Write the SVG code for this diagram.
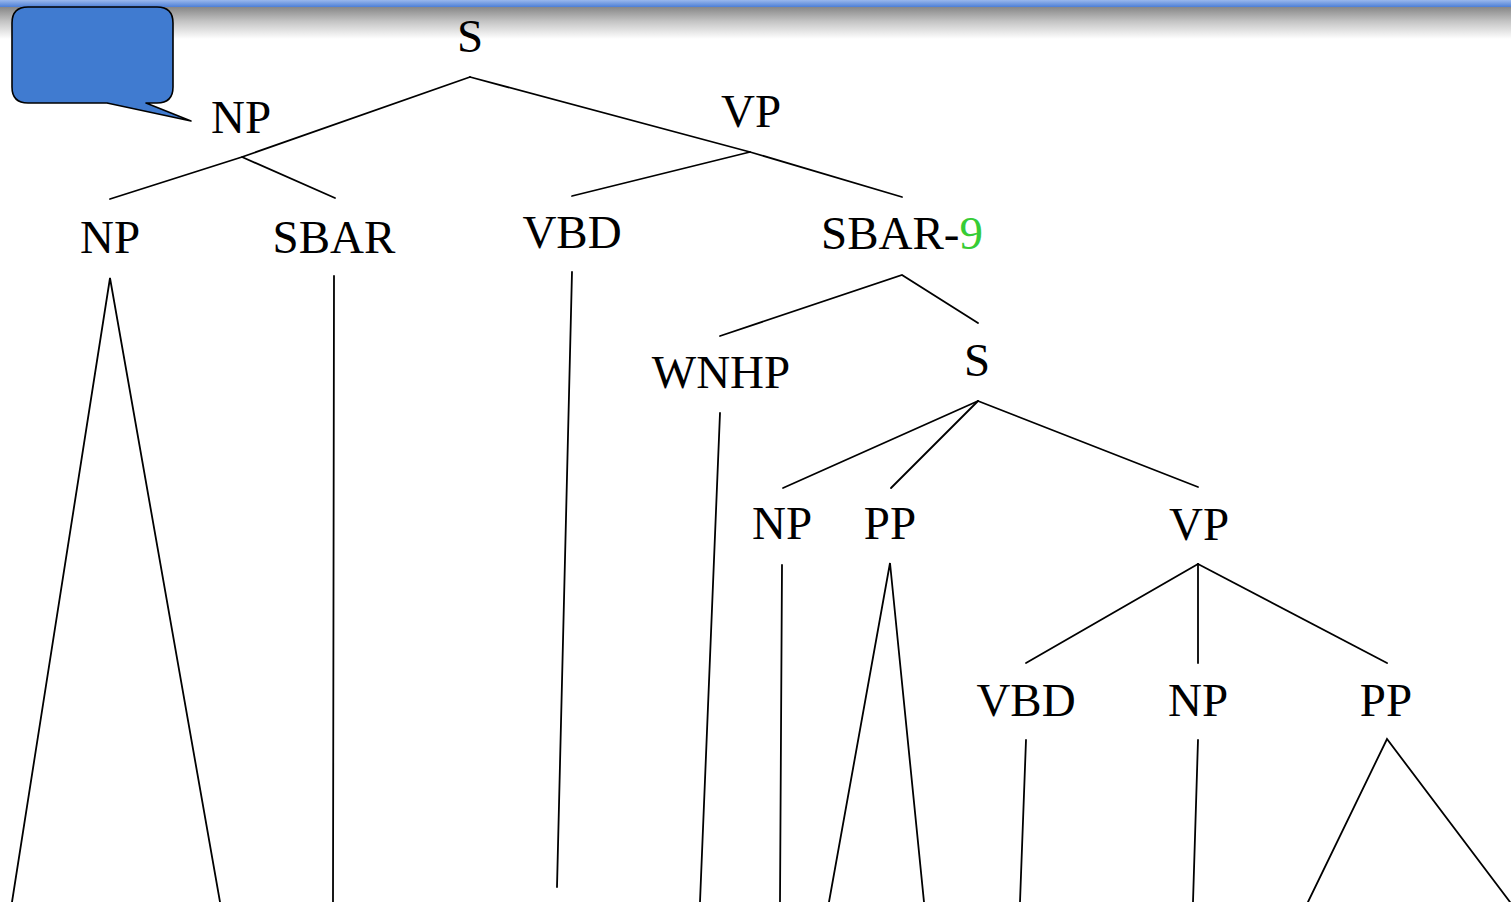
<svg xmlns="http://www.w3.org/2000/svg" width="1511" height="902" viewBox="0 0 1511 902">
  <defs>
    <linearGradient id="bandBlue" x1="0" y1="0" x2="0" y2="1">
      <stop offset="0" stop-color="#9ab8ec"/>
      <stop offset="1" stop-color="#4d7fd6"/>
    </linearGradient>
    <linearGradient id="bandShade" x1="0" y1="0" x2="0" y2="1">
      <stop offset="0" stop-color="#878787"/>
      <stop offset="0.45" stop-color="#c4c4c4"/>
      <stop offset="1" stop-color="#ffffff"/>
    </linearGradient>
    <style>
      .lbl { font-family: "Liberation Serif", "Times New Roman", serif; font-size: 47px; fill: #000; text-anchor: middle; }
      .edge { stroke: #000; stroke-width: 1.8; fill: none; stroke-linecap: round; }
      .callout { fill: #407bd0; stroke: #000; stroke-width: 1.6; stroke-linejoin: round; }
      .num { fill: #36cc36; }
    </style>
  </defs>

  <rect x="0" y="0" width="1511" height="902" fill="#ffffff"/>
  <!-- header band -->
  <rect x="0" y="0" width="1511" height="7" fill="url(#bandBlue)"/>
  <rect x="0" y="7" width="1511" height="32" fill="url(#bandShade)"/>

  <!-- speech-bubble callout -->
  <g id="callout">
    <path class="callout" d="M28,7 H157 Q173,7 173,23 V87 Q173,103 157,103 H146 L191,121 L107,103 H28 Q12,103 12,87 V23 Q12,7 28,7 Z"/>
  </g>

  <!-- tree edges -->
  <g id="connectors">
    <!-- S -->
    <polyline class="edge" points="470,77 242,157 110,199"/>
    <line class="edge" x1="242" y1="157" x2="335" y2="198"/>
    <polyline class="edge" points="470,77 750,152 902,197"/>
    <line class="edge" x1="750" y1="152" x2="572" y2="196"/>
    <!-- NP subtree triangle -->
    <polyline class="edge" points="12,902 110,278 220,902"/>
    <line class="edge" x1="334" y1="276" x2="333" y2="902"/>
    <line class="edge" x1="572" y1="272" x2="557" y2="887"/>
    <!-- SBAR-9 -->
    <polyline class="edge" points="720,336 902,275 978,323"/>
    <line class="edge" x1="720" y1="413" x2="700" y2="902"/>
    <!-- inner S -->
    <line class="edge" x1="978" y1="401" x2="783" y2="488"/>
    <line class="edge" x1="978" y1="401" x2="891" y2="488"/>
    <line class="edge" x1="978" y1="401" x2="1198" y2="487"/>
    <line class="edge" x1="782" y1="565" x2="780" y2="902"/>
    <polyline class="edge" points="829,902 890,563 924,902"/>
    <!-- inner VP -->
    <line class="edge" x1="1198" y1="564" x2="1026" y2="663"/>
    <line class="edge" x1="1198" y1="564" x2="1198" y2="663"/>
    <line class="edge" x1="1198" y1="564" x2="1387" y2="663"/>
    <line class="edge" x1="1026" y1="740" x2="1020" y2="902"/>
    <line class="edge" x1="1198" y1="740" x2="1193" y2="902"/>
    <polyline class="edge" points="1308,902 1387,739 1510,902"/>
  </g>

  <!-- node labels -->
  <g id="n-S"><text class="lbl" x="470" y="52">S</text></g>
  <g id="n-NP"><text class="lbl" x="241" y="133">NP</text></g>
  <g id="n-VP"><text class="lbl" x="751" y="127">VP</text></g>
  <g id="n-NP2"><text class="lbl" x="110" y="253">NP</text></g>
  <g id="n-SBAR"><text class="lbl" x="334" y="253">SBAR</text></g>
  <g id="n-VBD"><text class="lbl" x="572" y="248">VBD</text></g>
  <g id="n-SBAR9"><text class="lbl" x="821" y="249" style="text-anchor:start">SBAR-<tspan class="num">9</tspan></text></g>
  <g id="n-WNHP"><text class="lbl" x="721" y="388">WNHP</text></g>
  <g id="n-S2"><text class="lbl" x="977" y="376">S</text></g>
  <g id="n-NP3"><text class="lbl" x="782" y="539">NP</text></g>
  <g id="n-PP"><text class="lbl" x="890" y="539">PP</text></g>
  <g id="n-VP2"><text class="lbl" x="1199" y="540">VP</text></g>
  <g id="n-VBD2"><text class="lbl" x="1026" y="716">VBD</text></g>
  <g id="n-NP4"><text class="lbl" x="1198" y="716">NP</text></g>
  <g id="n-PP2"><text class="lbl" x="1386" y="716">PP</text></g>
</svg>
